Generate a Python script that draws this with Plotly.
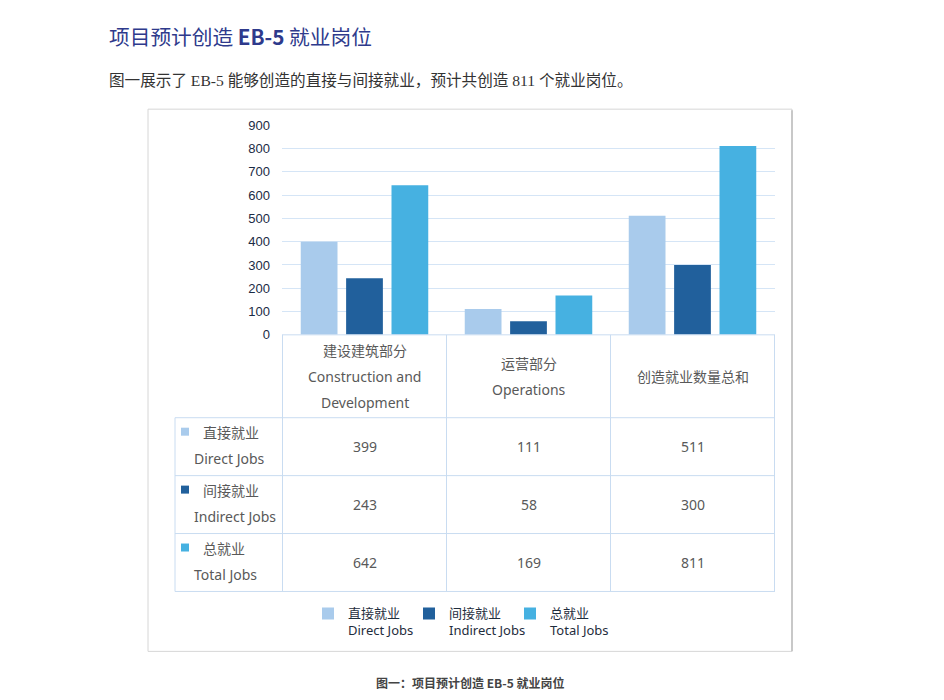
# 项目预计创造 EB-5 就业岗位 — 柱状图 + 数据表
import plotly.graph_objects as go

# 数据
categories = ["建设建筑部分", "运营部分", "创造就业数量总和"]
category_en = [["Construction and", "Development"], ["Operations"], []]
series_zh = ["直接就业", "间接就业", "总就业"]
series_en = ["Direct Jobs", "Indirect Jobs", "Total Jobs"]
direct_jobs = [399, 111, 511]
indirect_jobs = [243, 58, 300]
total_jobs = [642, 169, 811]
y_ticks = [0, 100, 200, 300, 400, 500, 600, 700, 800, 900]

colors = ["#A9CBEC", "#21609C", "#46B1E1"]
W, H = 944, 700

# 页面截图里的偏移（页面边距）做个补偿，坐标都按截图像素来写
X_OFF, Y_OFF, Y_SCALE = 8, 14.7, 0.98


def px(v):
    return (v - X_OFF) / W


def py(v):
    return 1 - (v - Y_OFF) / Y_SCALE / H


fig = go.Figure()
for name_zh, name_en, vals, col in zip(series_zh, series_en,
                                       [direct_jobs, indirect_jobs, total_jobs], colors):
    fig.add_trace(go.Bar(x=categories, y=vals, name=name_zh + "<br>" + name_en,
                         marker=dict(color=col, line=dict(width=0))))

# 表格位置（像素）
tab_left, plot_left, plot_right = 175, 282, 775
head_top, head_bottom, row_h = 335, 418, 58
line_col = "#C9DCF1"
txt_col = "#595959"
cjk = "Noto Sans, Noto Sans CJK SC"
tsize = 14

shapes = []
annotations = []
n_rows = len(series_zh)
table_bottom = head_bottom + n_rows * row_h

# 竖线：按类别边界
for i in range(len(categories) + 1):
    shapes.append(dict(type="line", xref="x", yref="paper", x0=i - 0.5, x1=i - 0.5,
                       y0=py(head_top), y1=py(table_bottom),
                       line=dict(color=line_col, width=1)))
shapes.append(dict(type="line", xref="paper", yref="paper", x0=px(tab_left), x1=px(tab_left),
                   y0=py(head_bottom), y1=py(table_bottom), line=dict(color=line_col, width=1)))
# 横线
shapes.append(dict(type="line", xref="paper", yref="paper", x0=px(plot_left), x1=px(plot_right),
                   y0=py(head_top), y1=py(head_top), line=dict(color=line_col, width=1)))
for r in range(n_rows + 1):
    yy = py(head_bottom + r * row_h)
    shapes.append(dict(type="line", xref="paper", yref="paper", x0=px(tab_left), x1=px(plot_right),
                       y0=yy, y1=yy, line=dict(color=line_col, width=1)))

# 表头文字
head_mid = (head_top + head_bottom) / 2
for cat, en in zip(categories, category_en):
    lines = [cat] + en
    start = head_mid - (len(lines) - 1) * 13
    for k, t in enumerate(lines):
        annotations.append(dict(text=t, x=cat, xref="x", y=py(start + k * 26), yref="paper",
                                showarrow=False, xanchor="center", yanchor="middle",
                                font=dict(family=cjk, size=tsize, color=txt_col)))

# 行标签与数值
for r, (zh, en, col, vals) in enumerate(zip(series_zh, series_en, colors,
                                            [direct_jobs, indirect_jobs, total_jobs])):
    mid = head_bottom + r * row_h + row_h / 2
    shapes.append(dict(type="rect", xref="paper", yref="paper", x0=px(181), x1=px(189),
                       y0=py(mid - 11), y1=py(mid - 19), fillcolor=col, line=dict(width=0)))
    annotations.append(dict(text=zh, x=px(201), xref="paper", y=py(mid - 14), yref="paper",
                            showarrow=False, xanchor="left", yanchor="middle",
                            font=dict(family=cjk, size=tsize, color=txt_col)))
    annotations.append(dict(text=en, x=px(192), xref="paper", y=py(mid + 12), yref="paper",
                            showarrow=False, xanchor="left", yanchor="middle",
                            font=dict(family=cjk, size=tsize, color=txt_col)))
    for cat, v in zip(categories, vals):
        annotations.append(dict(text=str(v), x=cat, xref="x", y=py(mid), yref="paper",
                                showarrow=False, xanchor="center", yanchor="middle",
                                font=dict(family=cjk, size=tsize, color=txt_col)))

# 外框
shapes.append(dict(type="rect", xref="paper", yref="paper", x0=px(148), x1=px(792),
                   y0=py(652), y1=py(109), line=dict(color="#D6D6D6", width=1), layer="below"))
shapes.append(dict(type="line", xref="paper", yref="paper", x0=px(792), x1=px(792),
                   y0=py(652), y1=py(110), line=dict(color="#C8C8C8", width=2)))

# 标题、说明、图注
annotations.append(dict(text="项目预计创造 <b>EB-5</b> 就业岗位", x=px(107), y=py(36),
                        xref="paper", yref="paper", showarrow=False, xanchor="left", yanchor="middle",
                        font=dict(family="Noto Sans CJK SC", size=20.7, color="#2E3A8C")))
annotations.append(dict(text="图一展示了 EB-5 能够创造的直接与间接就业，预计共创造 811 个就业岗位。",
                        x=px(107), y=py(80), xref="paper", yref="paper", showarrow=False,
                        xanchor="left", yanchor="middle",
                        font=dict(family="Liberation Serif, Noto Sans CJK SC", size=15.6, color="#333333")))
annotations.append(dict(text="<b>图一：项目预计创造 EB-5 就业岗位</b>", x=px(470), y=py(683),
                        xref="paper", yref="paper", showarrow=False, xanchor="center", yanchor="middle",
                        font=dict(family="Noto Sans CJK SC", size=12, color="#444444")))

fig.update_layout(
    width=W, height=H,
    margin=dict(l=0, r=0, t=0, b=0),
    paper_bgcolor="white", plot_bgcolor="white",
    barmode="group", bargap=0.17, bargroupgap=0.19,
    xaxis=dict(domain=[px(plot_left), px(plot_right)], showticklabels=False,
               showgrid=False, zeroline=False, showline=False),
    yaxis=dict(domain=[py(head_top), py(125)], range=[0, 900], tickvals=y_ticks,
               gridcolor="#D5E5F6", gridwidth=1, zeroline=False, showline=False,
               ticklabelstandoff=11,
               tickfont=dict(family="Liberation Sans", size=13, color="#1B2B45")),
    legend=dict(orientation="h", x=px(308), xanchor="left", y=py(599), yanchor="top",
                valign="top", entrywidth=56, font=dict(family=cjk, size=13, color="#1F2D3D"),
                itemclick=False, itemdoubleclick=False),
    shapes=shapes, annotations=annotations,
)

fig.write_html("out.html")
